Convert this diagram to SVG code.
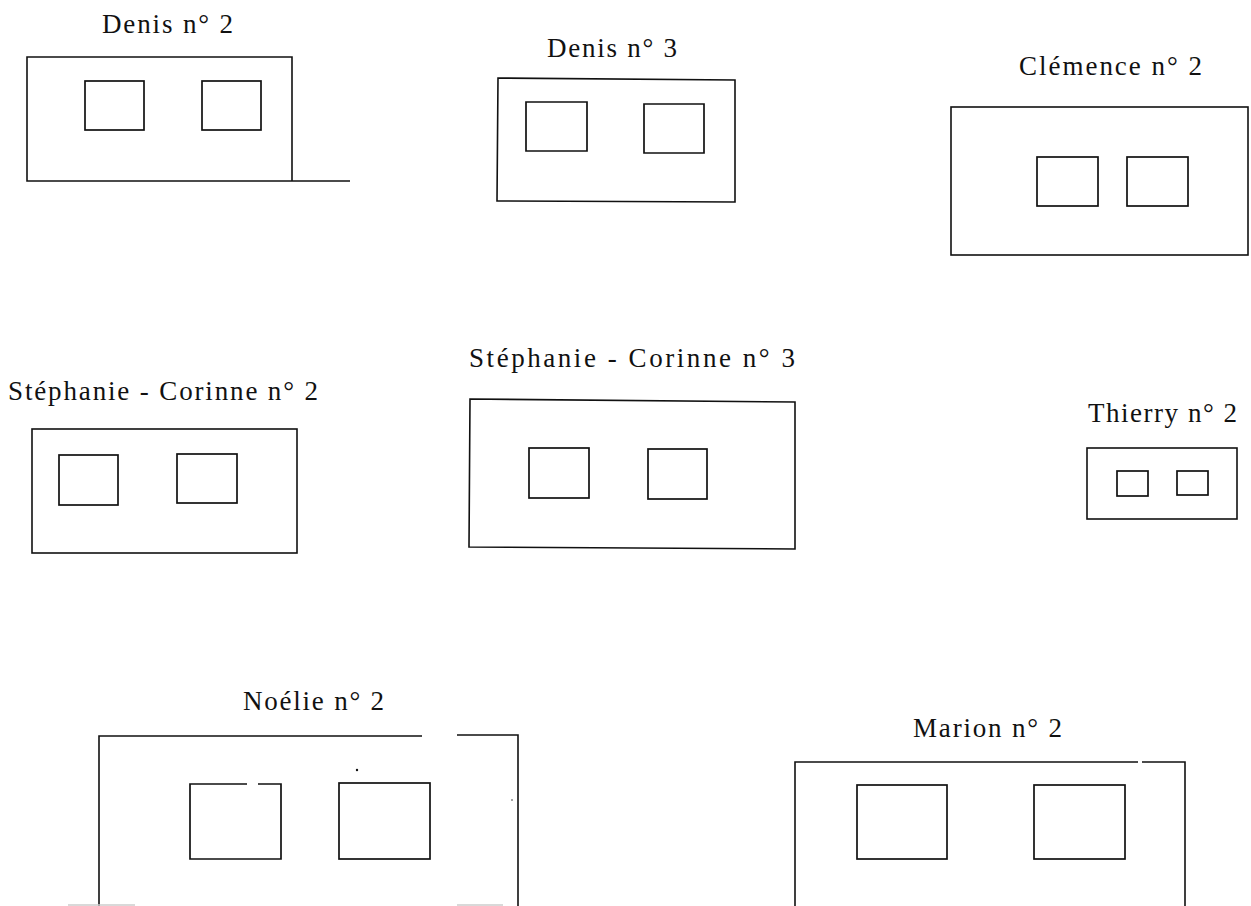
<svg xmlns="http://www.w3.org/2000/svg" width="1251" height="906" viewBox="0 0 1251 906">
<style>
.o{fill:none;stroke:#111;stroke-width:1.6;stroke-linejoin:miter}
.w{fill:none;stroke:#111;stroke-width:1.7}
text{font-family:'Liberation Serif','DejaVu Serif','Times New Roman',serif;font-size:27px;fill:#111}
.f{stroke:#ccc;stroke-width:1.5}
</style>
<rect width="1251" height="906" fill="#fff"/>
<g id="denis2">
<text x="102" y="33" textLength="131" lengthAdjust="spacing">Denis n° 2</text>
<polyline class="o" points="292,181 292,57 27,57 27,181 350,181"/>
<rect class="w" x="85" y="81" width="59" height="49"/>
<rect class="w" x="202" y="81" width="59" height="49"/>
</g>
<g id="denis3">
<text x="547" y="57" textLength="130" lengthAdjust="spacing">Denis n° 3</text>
<polygon class="o" points="498,78 735,80 735,202 497,201"/>
<polygon class="w" points="526,102 587,102 587,151 526,151"/>
<polygon class="w" points="644,104 704,104 704,153 644,153"/>
</g>
<g id="clemence2">
<text x="1019" y="75" textLength="183" lengthAdjust="spacing">Clémence n° 2</text>
<rect class="o" x="951" y="107" width="297" height="148"/>
<rect class="w" x="1037" y="157" width="61" height="49"/>
<rect class="w" x="1127" y="157" width="61" height="49"/>
</g>
<g id="stephanie2">
<text x="8" y="400" textLength="310" lengthAdjust="spacing">Stéphanie - Corinne n° 2</text>
<rect class="o" x="32" y="429" width="265" height="124"/>
<rect class="w" x="59" y="455" width="59" height="50"/>
<rect class="w" x="177" y="454" width="60" height="49"/>
</g>
<g id="stephanie3">
<text x="469" y="367" textLength="326" lengthAdjust="spacing">Stéphanie - Corinne n° 3</text>
<polygon class="o" points="470,399 795,402 795,549 469,547"/>
<rect class="w" x="529" y="448" width="60" height="50"/>
<rect class="w" x="648" y="449" width="59" height="50"/>
</g>
<g id="thierry2">
<text x="1088" y="422" textLength="149" lengthAdjust="spacing">Thierry n° 2</text>
<rect class="o" x="1087" y="448" width="150" height="71"/>
<rect class="w" x="1117" y="471" width="31" height="25"/>
<rect class="w" x="1177" y="471" width="31" height="24"/>
</g>
<g id="noelie2">
<text x="243" y="710" textLength="141" lengthAdjust="spacing">Noélie n° 2</text>
<polyline class="o" points="99,906 99,736 422,736"/>
<polyline class="o" points="457,735 518,735 518,906"/>
<polyline class="w" points="247,784 190,784 190,859 281,859 281,784 258,784"/>
<rect class="w" x="339" y="783" width="91" height="76"/>
<circle cx="357" cy="770" r="1.2" fill="#111"/>
<circle cx="512" cy="800" r="0.8" fill="#333"/>
<line class="f" x1="68" y1="905" x2="135" y2="905"/>
<line class="f" x1="457" y1="905" x2="503" y2="905"/>
</g>
<g id="marion2">
<text x="913" y="737" textLength="149" lengthAdjust="spacing">Marion n° 2</text>
<polyline class="o" points="795,906 795,762 1138,762"/>
<polyline class="o" points="1142,762 1185,762 1185,906"/>
<rect class="w" x="857" y="785" width="90" height="74"/>
<rect class="w" x="1034" y="785" width="91" height="74"/>
</g>
<g id="connectors"></g>
</svg>
